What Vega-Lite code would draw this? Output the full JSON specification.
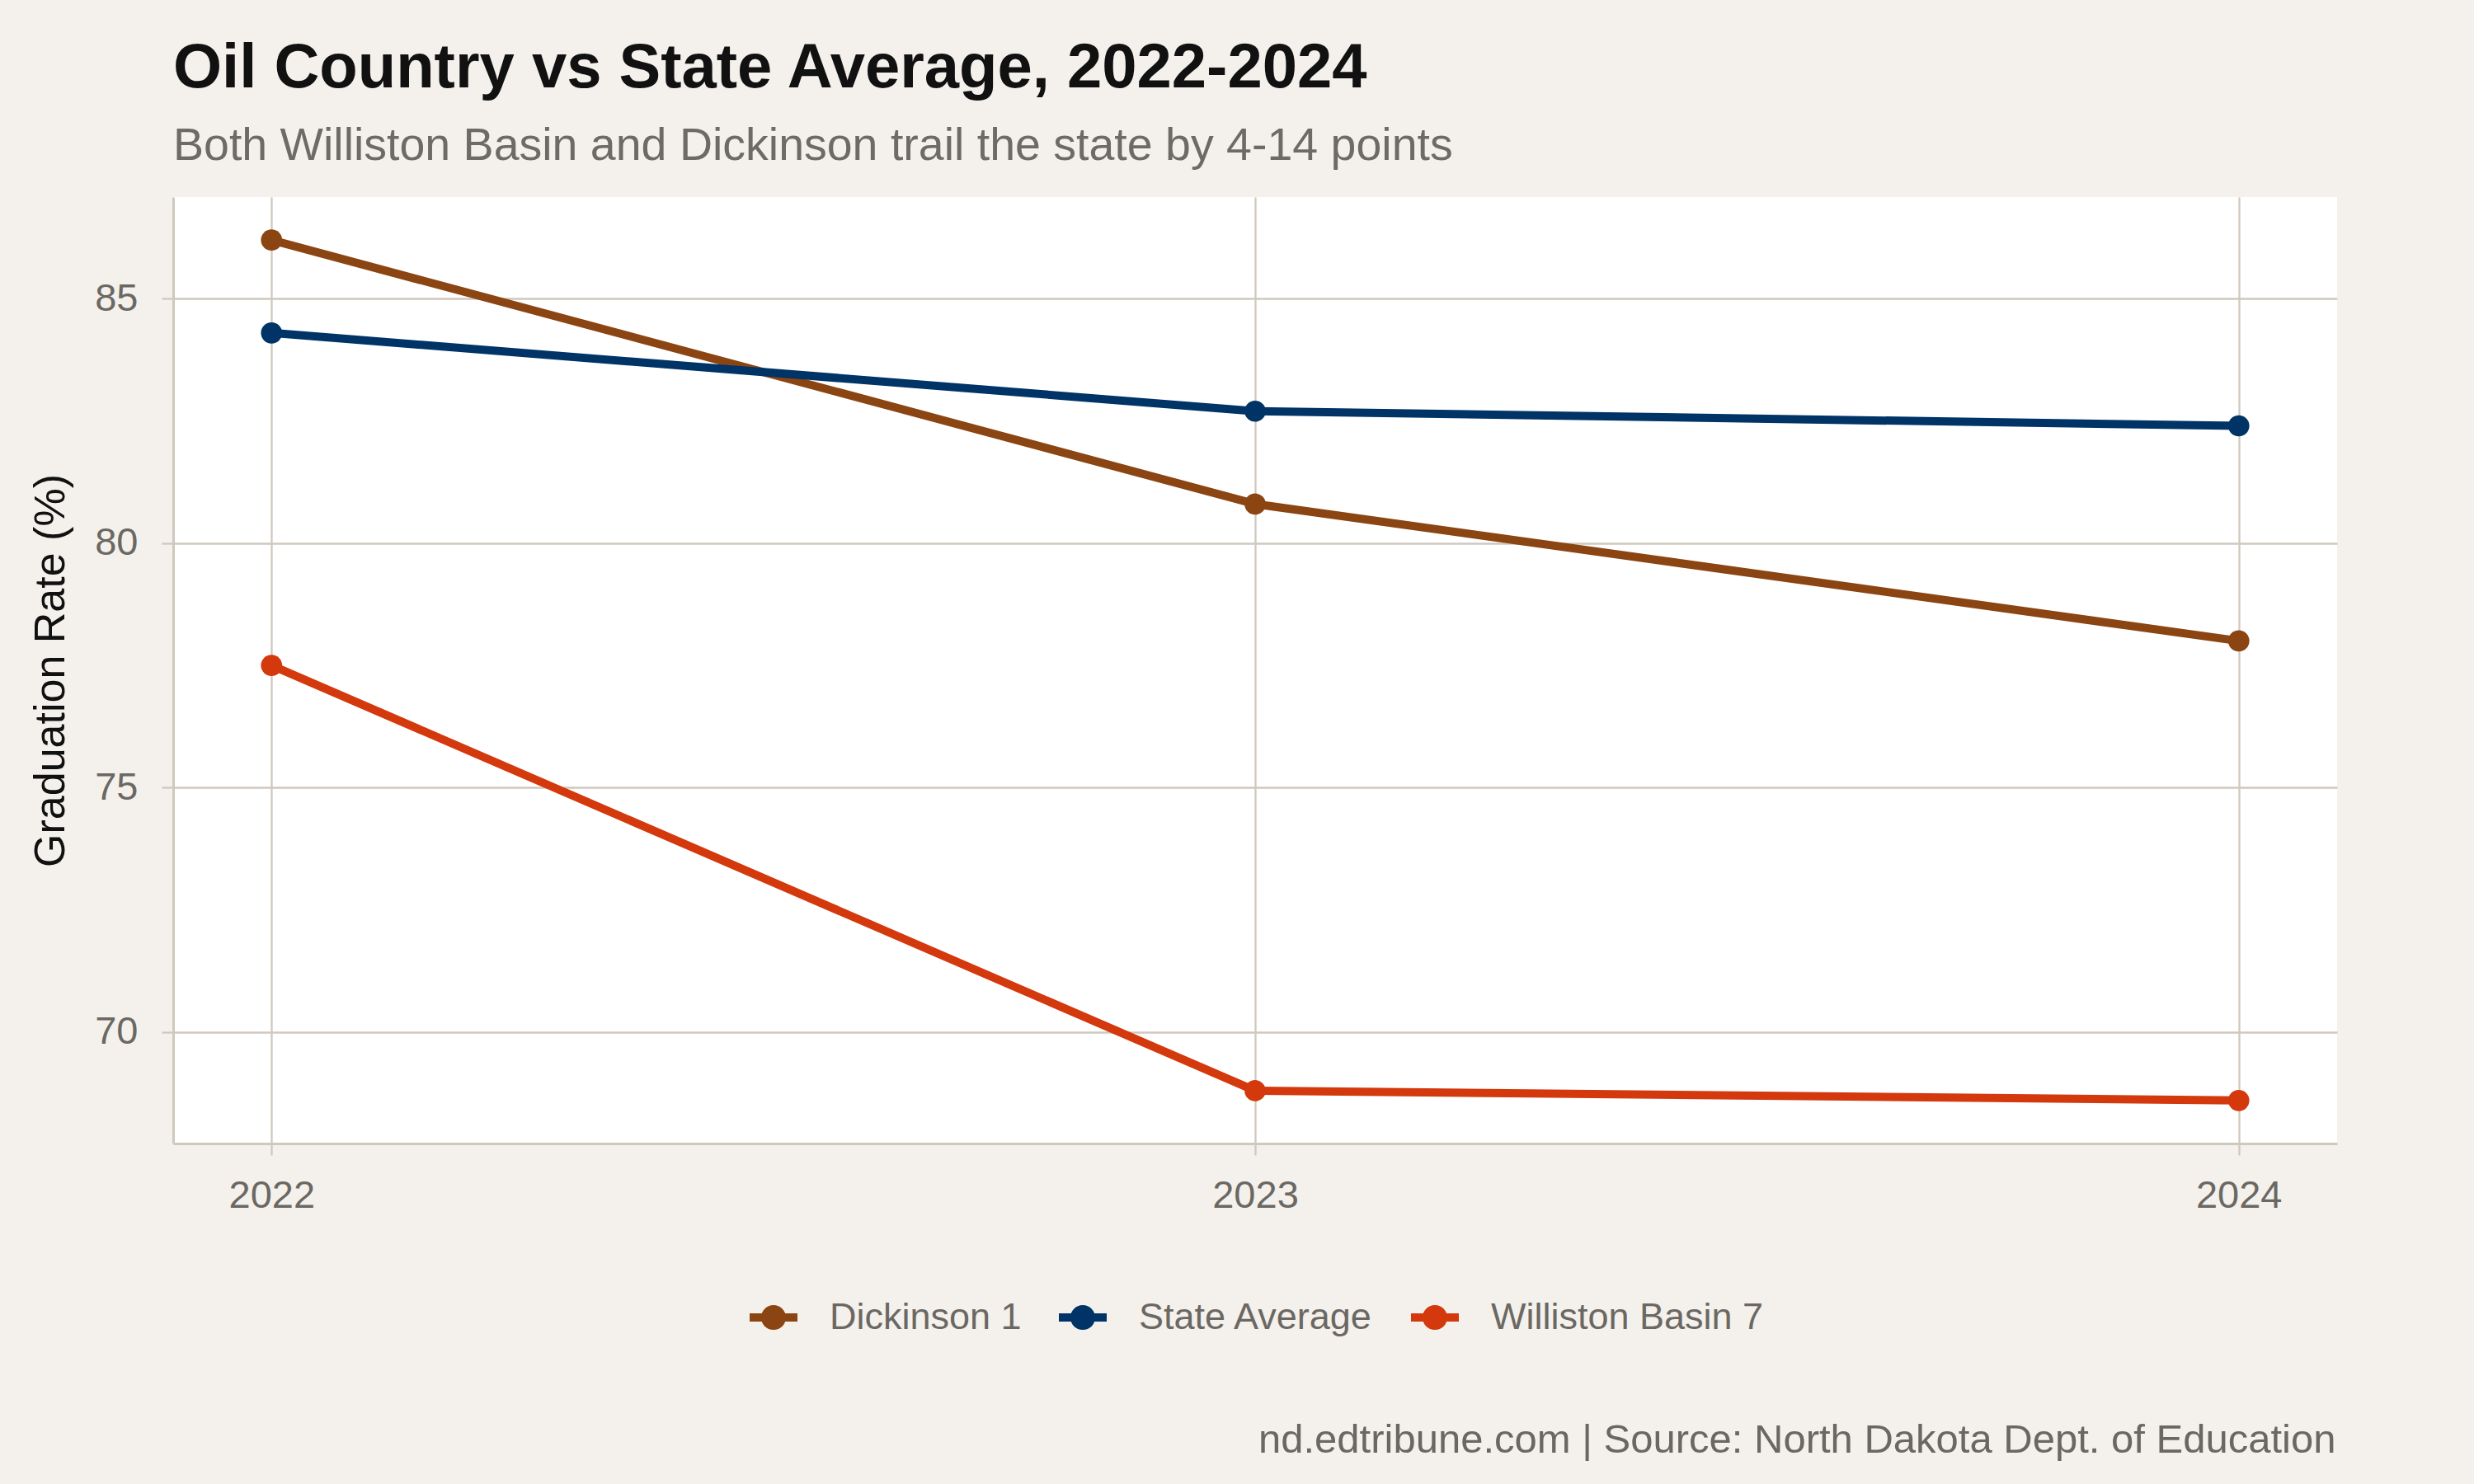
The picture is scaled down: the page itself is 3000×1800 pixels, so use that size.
{
  "$schema": "https://vega.github.io/schema/vega-lite/v6.json",
  "width": 2624,
  "height": 1148,
  "autosize": {"type": "none"},
  "padding": {"left": 210, "top": 239, "right": 166, "bottom": 413},
  "background": "#f4f1ec",
  "title": {
    "text": "Oil Country vs State Average, 2022-2024",
    "subtitle": "Both Williston Basin and Dickinson trail the state by 4-14 points",
    "anchor": "start",
    "frame": "group",
    "font": "Liberation Sans",
    "fontSize": 76,
    "fontWeight": "bold",
    "color": "#111111",
    "subtitleFont": "Liberation Sans",
    "subtitleFontSize": 55.5,
    "subtitleColor": "#6e6a65",
    "subtitlePadding": 28,
    "offset": 33
  },
  "data": {
    "values": [
      {"district": "Dickinson 1", "year": 2022, "rate": 86.2},
      {"district": "Dickinson 1", "year": 2023, "rate": 80.8},
      {"district": "Dickinson 1", "year": 2024, "rate": 78.0},
      {"district": "State Average", "year": 2022, "rate": 84.3},
      {"district": "State Average", "year": 2023, "rate": 82.7},
      {"district": "State Average", "year": 2024, "rate": 82.4},
      {"district": "Williston Basin 7", "year": 2022, "rate": 77.5},
      {"district": "Williston Basin 7", "year": 2023, "rate": 68.8},
      {"district": "Williston Basin 7", "year": 2024, "rate": 68.6}
    ]
  },
  "encoding": {
    "x": {
      "field": "year",
      "type": "quantitative",
      "scale": {"domain": [2021.9, 2024.1], "nice": false, "zero": false},
      "axis": {
        "values": [2022, 2023, 2024],
        "format": "d",
        "labelPadding": 26,
        "title": "nd.edtribune.com | Source: North Dakota Dept. of Education",
        "titleX": 2622,
        "titleY": 374,
        "titleAlign": "right",
        "titleAnchor": "end",
        "titleBaseline": "alphabetic",
        "titleFontSize": 49,
        "titleFontWeight": "normal",
        "titleColor": "#6b6863",
        "titleLimit": 3000
      }
    },
    "y": {
      "field": "rate",
      "type": "quantitative",
      "scale": {"domain": [67.72, 87.08], "nice": false, "zero": false},
      "axis": {
        "values": [70, 75, 80, 85],
        "labelPadding": 29,
        "title": "Graduation Rate (%)",
        "titleFontSize": 52,
        "titleFontWeight": "normal",
        "titleColor": "#111111",
        "titlePadding": 26
      }
    },
    "color": {
      "field": "district",
      "type": "nominal",
      "scale": {
        "domain": ["Dickinson 1", "State Average", "Williston Basin 7"],
        "range": ["#8b4513", "#003366", "#d4380d"]
      },
      "legend": {
        "title": null,
        "orient": "none",
        "direction": "horizontal",
        "legendX": 699,
        "legendY": 1330,
        "symbolType": "M-1,-0.17L1,-0.17L1,0.17L-1,0.17Z M0.52,0 A0.52,0.52 0 1,1 -0.52,0 A0.52,0.52 0 1,1 0.52,0 Z",
        "symbolSize": 3364,
        "symbolStrokeWidth": 0,
        "symbolOpacity": 1,
        "labelFont": "Liberation Sans",
        "labelFontSize": 45,
        "labelColor": "#6b6863",
        "labelLimit": 1000,
        "labelOffset": 39,
        "columnPadding": 45,
        "padding": 0
      }
    }
  },
  "layer": [
    {"mark": {"type": "line", "strokeWidth": 10}},
    {"mark": {"type": "point", "filled": true, "size": 660, "opacity": 1}}
  ],
  "config": {
    "view": {"fill": "#ffffff", "stroke": null},
    "font": "Liberation Sans",
    "axis": {
      "labelFont": "Liberation Sans",
      "labelFontSize": 47,
      "labelColor": "#6b6863",
      "titleFont": "Liberation Sans",
      "gridColor": "#cfc8be",
      "gridWidth": 2.3,
      "domainColor": "#cfc8be",
      "domainWidth": 3,
      "tickColor": "#cfc8be",
      "tickWidth": 2.3,
      "tickSize": 14
    }
  }
}
